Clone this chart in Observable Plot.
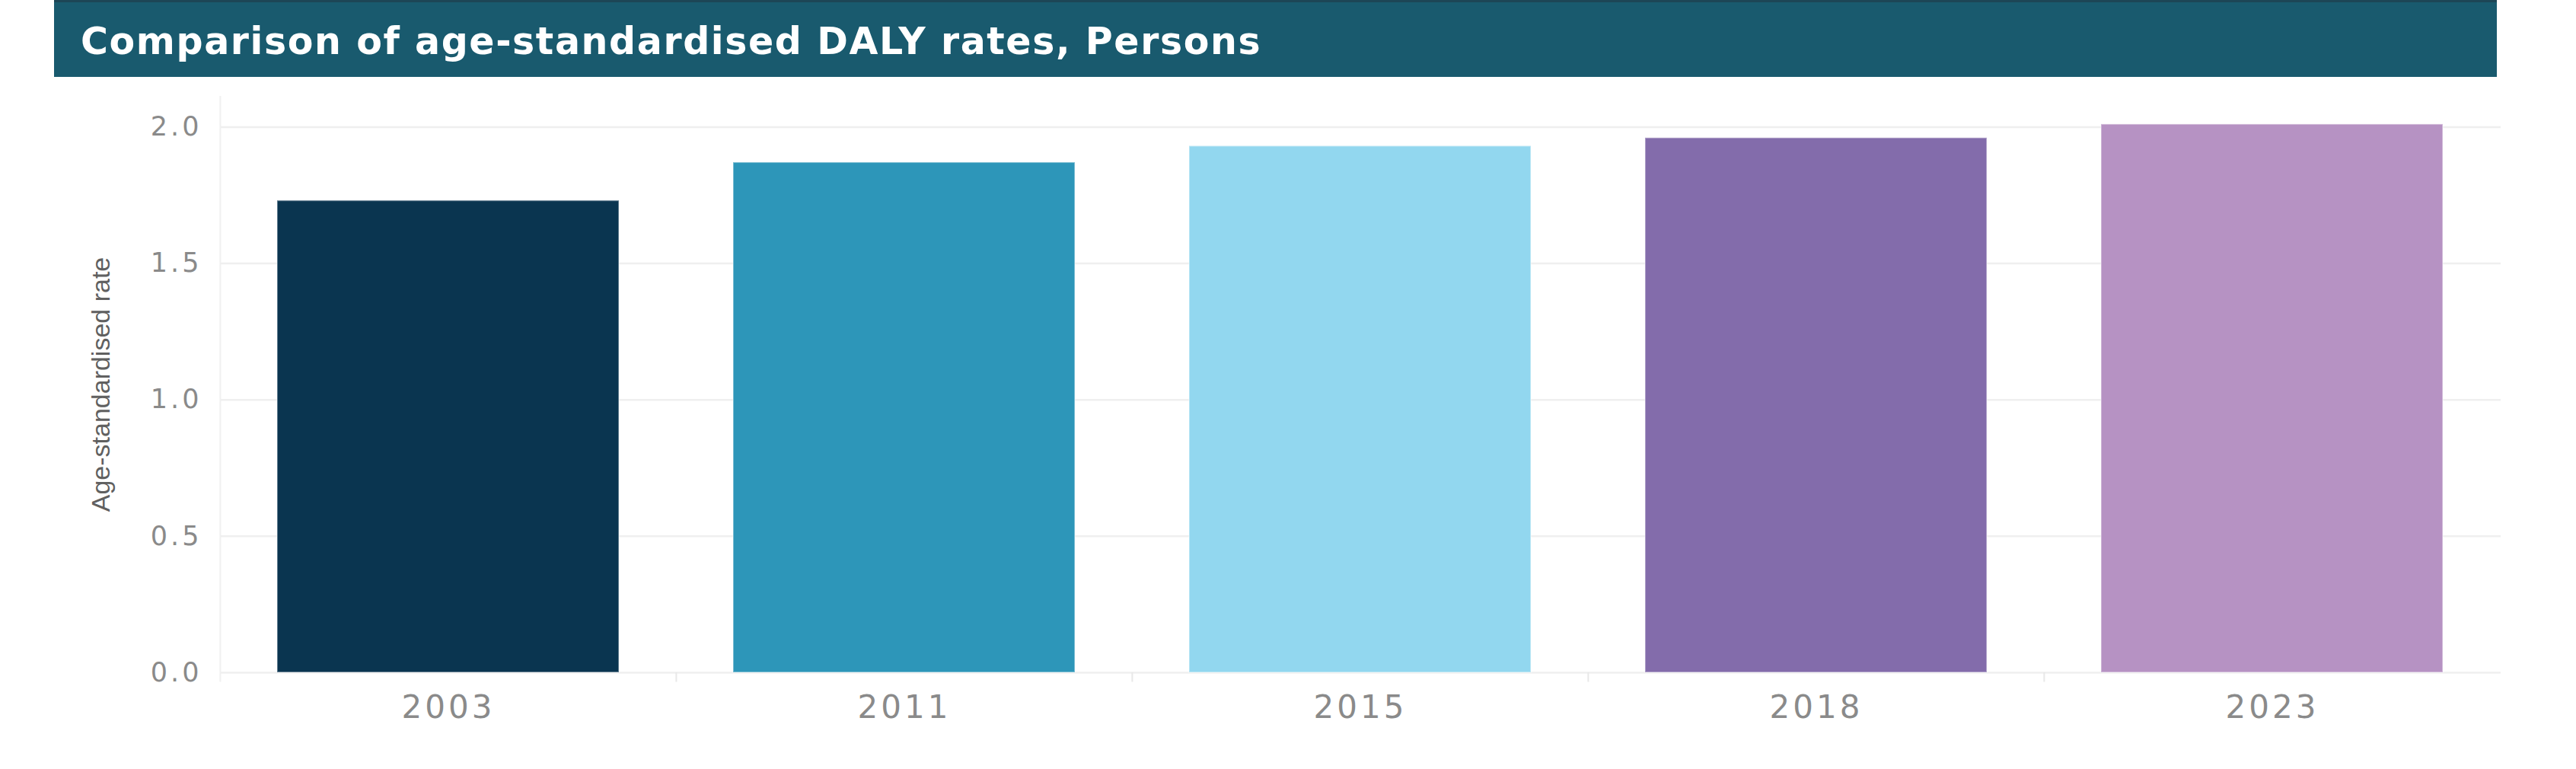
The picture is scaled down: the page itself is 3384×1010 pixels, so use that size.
<!DOCTYPE html>
<html>
<head>
<meta charset="utf-8">
<script src="https://cdn.jsdelivr.net/npm/d3@7"></script>
<script src="https://cdn.jsdelivr.net/npm/@observablehq/plot@0.6"></script>
<style>
  html, body { margin: 0; padding: 0; background: #ffffff; }
  #page { position: relative; width: 3384px; height: 1010px; overflow: hidden; }
  #header {
    position: absolute; left: 71px; top: 0; width: 3209px; height: 101px;
    background: #195a6e; border-top: 3px solid #1d4656; box-sizing: border-box;
  }
  #title {
    position: absolute; left: 35px; top: 27px; line-height: 1;
    font-family: "DejaVu Sans", sans-serif; font-weight: bold; font-size: 49px;
    letter-spacing: 1.6px; color: #ffffff; white-space: nowrap;
  }
  #chart { position: absolute; left: 0; top: 101px; }
  #chart g[aria-label="y-axis tick label"] text { letter-spacing: 4px; }
  #chart g[aria-label="x-axis tick label"] text { letter-spacing: 4px; }
</style>
</head>
<body>
<div id="page">
  <div id="header"><div id="title"></div></div>
  <div id="chart"></div>
</div>
<script>
// ---- data ----
const titleText = "Comparison of age-standardised DALY rates, Persons";
const yTitle = ["Age-standardised rate"];
const years = ["2003", "2011", "2015", "2018", "2023"];
const values = [1.73, 1.87, 1.93, 1.96, 2.01];
const barColors = ["#0a3550", "#2d96b9", "#92d7ef", "#836cab", "#b692c3"];
const yTicks = [0, 0.5, 1.0, 1.5, 2.0];

document.getElementById("title").textContent = titleText;

const data = years.map((y, i) => ({year: y, value: values[i]}));

const W = 3384, H = 909;
const mL = 289, mR = 99, mT = 25, mB = 127;
const pInner = 0.25, pOuter = 0.125;
const step = (W - mL - mR) / (years.length - pInner + 2 * pOuter);
const yMax = 2.113;

const chart = Plot.plot({
  width: W,
  height: H,
  marginLeft: mL,
  marginRight: mR,
  marginTop: mT,
  marginBottom: mB,
  style: {background: "transparent", overflow: "visible"},
  x: {type: "band", domain: years, paddingInner: pInner, paddingOuter: pOuter, label: null, axis: null},
  y: {domain: [0, yMax], label: null, axis: null},
  color: {domain: years, range: barColors},
  marks: [
    Plot.ruleY(yTicks, {stroke: "#efefef", strokeWidth: 2.5}),
    Plot.ruleX([years[0]], {x: d => d, dx: -step / 2, y1: -0.035, y2: yMax, stroke: "#f0f0f0", strokeWidth: 2}),
    Plot.ruleX(years.slice(1), {x: d => d, dx: -step / 2, y1: -0.035, y2: 0, stroke: "#e8e8e8", strokeWidth: 2}),
    Plot.barY(data, {x: "year", y: "value", fill: "year", stroke: "#ffffff", strokeOpacity: 0.35, strokeWidth: 2}),
    Plot.axisY(yTicks, {
      tickSize: 0, tickPadding: 24, tickFormat: d3.format(".1f"),
      fontSize: 35, fontFamily: "DejaVu Sans, sans-serif", fill: "#8a8a8a", label: null
    }),
    Plot.axisX(years, {
      tickSize: 0, tickPadding: 30,
      fontSize: 42, fontFamily: "DejaVu Sans, sans-serif", fill: "#8a8a8a", label: null
    }),
    Plot.text(yTitle, {
      text: d => d, frameAnchor: "left", textAnchor: "middle", dx: -156, rotate: -90,
      fontSize: 34, fontFamily: "Liberation Sans, Arial, sans-serif", fill: "#606060",
      style: "letter-spacing: 2.6px"
    })
  ]
});
document.getElementById("chart").appendChild(chart);
</script>
</body>
</html>
